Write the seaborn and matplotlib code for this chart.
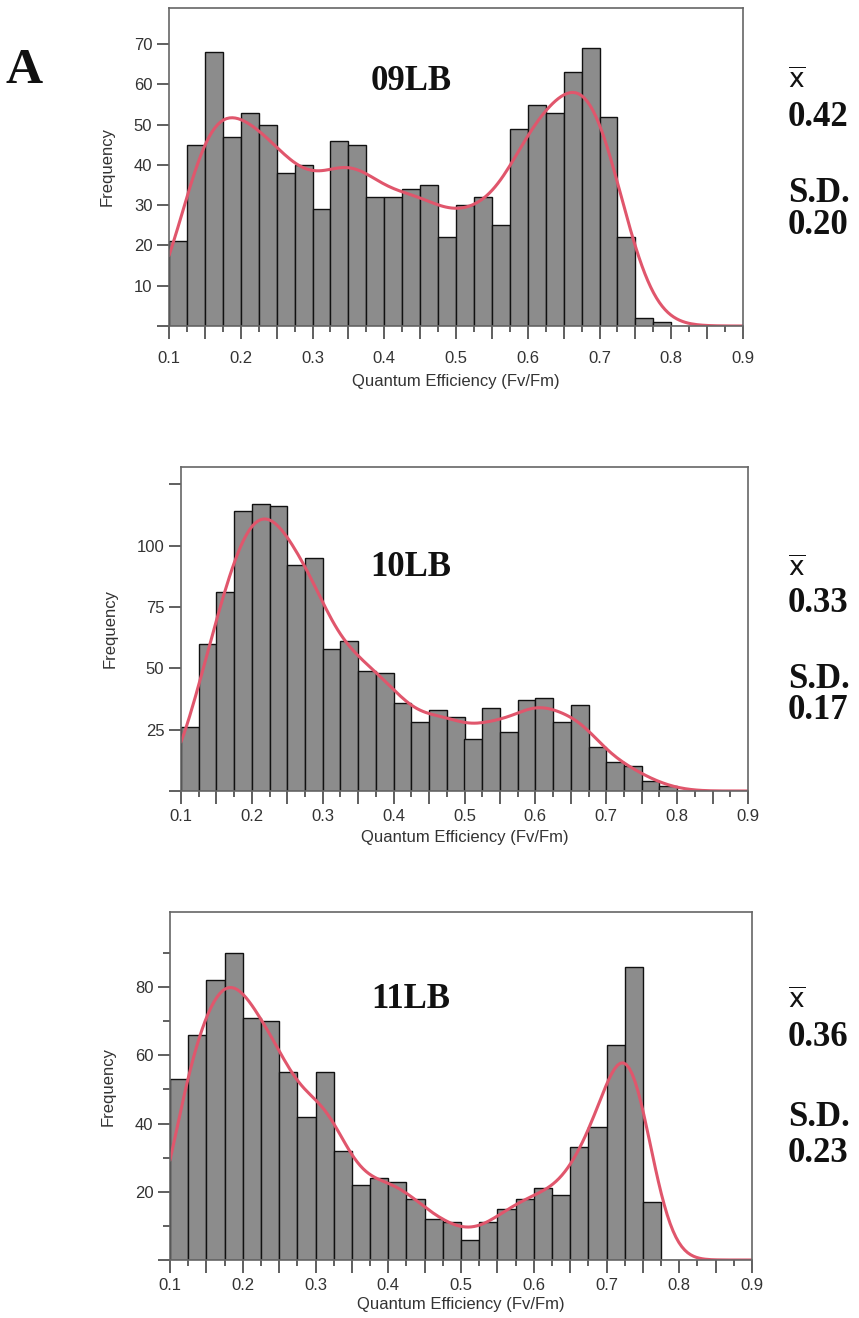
import numpy as np
import pandas as pd
import seaborn as sns
import matplotlib.pyplot as plt
from matplotlib.ticker import FixedLocator, MultipleLocator

# bin counts, bins of 0.025 from 0.1 to 0.9
bin_edges = np.linspace(0.1, 0.9, 33)
bin_mid = (bin_edges[:-1] + bin_edges[1:]) / 2

counts_09 = [21, 45, 68, 47, 53, 50, 38, 40, 29, 46, 45, 32, 32, 34, 35, 22,
             30, 32, 25, 49, 55, 53, 63, 69, 52, 22, 2, 1, 0, 0, 0, 0]
counts_10 = [26, 60, 81, 114, 117, 116, 92, 95, 58, 61, 49, 48, 36, 28, 33, 30,
             21, 34, 24, 37, 38, 28, 35, 18, 12, 10, 4, 2, 0, 0, 0, 0]
counts_11 = [53, 66, 82, 90, 71, 70, 55, 42, 55, 32, 22, 24, 23, 18, 12, 11,
             6, 11, 15, 18, 21, 19, 33, 39, 63, 86, 17, 0, 0, 0, 0, 0]

samples = ["09LB", "10LB", "11LB"]
means = ["0.42", "0.33", "0.36"]
sds = ["0.20", "0.17", "0.23"]

sns.set_theme(style="ticks")
plt.rcParams["font.family"] = ["Liberation Sans", "DejaVu Sans"]

W, H = 859, 1318
fig = plt.figure(figsize=(W / 100, H / 100), dpi=100)

def px_axes(l, t, r, b):
    return fig.add_axes([l / W, 1 - b / H, (r - l) / W, (b - t) / H])

axes = [px_axes(169, 8, 743, 326), px_axes(181, 467, 748, 791), px_axes(170, 912, 752, 1260)]
all_counts = [counts_09, counts_10, counts_11]
ylims = [79, 132, 102]
bws = [0.33, 0.3, 0.22]
xpads = [9, 4, 4]
xlabpads = [6, 4, 3]

for ax, counts, ymax, bw, xp, xlp in zip(axes, all_counts, ylims, bws, xpads, xlabpads):
    df = pd.DataFrame({"qe": bin_mid, "n": counts})
    sns.histplot(data=df, x="qe", weights="n", binwidth=0.025, binrange=(0.1, 0.9), kde=True,
                 kde_kws={"bw_adjust": bw, "cut": 3, "clip": (0.1, 0.9)},
                 color="#8c8c8c", edgecolor="#111111", linewidth=1.0, alpha=1,
                 line_kws={"linewidth": 2.2}, ax=ax)
    ax.lines[-1].set_color("#e0566c")
    ax.set_xlim(0.1, 0.9)
    ax.set_ylim(0, ymax)
    ax.set_xlabel("Quantum Efficiency (Fv/Fm)", fontsize=12, color="#333333", labelpad=xlp)
    ax.set_ylabel("Frequency", fontsize=12, color="#333333", labelpad=14)
    xt = np.round(np.arange(0.1, 0.901, 0.05), 3)
    ax.xaxis.set_major_locator(FixedLocator(xt))
    ax.set_xticklabels([f"{v:.1f}" if i % 2 == 0 else "" for i, v in enumerate(xt)])
    ax.xaxis.set_minor_locator(MultipleLocator(0.025))
    for s in ax.spines.values():
        s.set_visible(True)
        s.set_color("#666666")
        s.set_linewidth(1.2)
    ax.tick_params(axis="both", which="major", direction="out", length=9, width=1.2,
                   color="#444444", labelsize=12, labelcolor="#333333")
    ax.tick_params(axis="x", which="major", pad=xp)
    ax.tick_params(axis="y", which="major", pad=3)
    ax.tick_params(axis="both", which="minor", direction="out", length=4, width=1.2,
                   color="#444444")
    ax.tick_params(axis="y", which="minor", length=5)

# y ticks per panel
axes[0].yaxis.set_major_locator(FixedLocator(range(0, 71, 10)))
axes[0].set_yticklabels([""] + [str(v) for v in range(10, 71, 10)])
axes[1].yaxis.set_major_locator(FixedLocator(range(0, 126, 25)))
axes[1].set_yticklabels(["", "25", "50", "75", "100", ""])
axes[2].yaxis.set_major_locator(FixedLocator(range(0, 81, 20)))
axes[2].set_yticklabels(["", "20", "40", "60", "80"])
axes[2].yaxis.set_minor_locator(FixedLocator(range(10, 100, 20)))

def ftext(x, y, s, **kw):
    fig.text(x / W, 1 - y / H, s, **kw)

serif = dict(family=["Liberation Serif", "DejaVu Serif"], fontweight="bold", color="#111111")
ftext(6, 71, "A", fontsize=37, ha="left", va="center", **serif)

name_y = [82, 568, 1000]
xbar_y = [80, 568, 1000]
mean_y = [117, 603, 1038]
sdl_y = [193, 679, 1118]
sd_y = [225, 711, 1153]
for i in range(3):
    ftext(411, name_y[i], samples[i], fontsize=25, ha="center", va="center", **serif)
    ftext(788, xbar_y[i], r"$\overline{\mathsf{x}}$", fontsize=19, ha="left", va="center",
          color="#111111")
    ftext(788, mean_y[i], means[i], fontsize=25, ha="left", va="center", **serif)
    ftext(788, sdl_y[i], "S.D.", fontsize=25, ha="left", va="center", **serif)
    ftext(788, sd_y[i], sds[i], fontsize=25, ha="left", va="center", **serif)

fig.savefig("out.png", dpi=100)
